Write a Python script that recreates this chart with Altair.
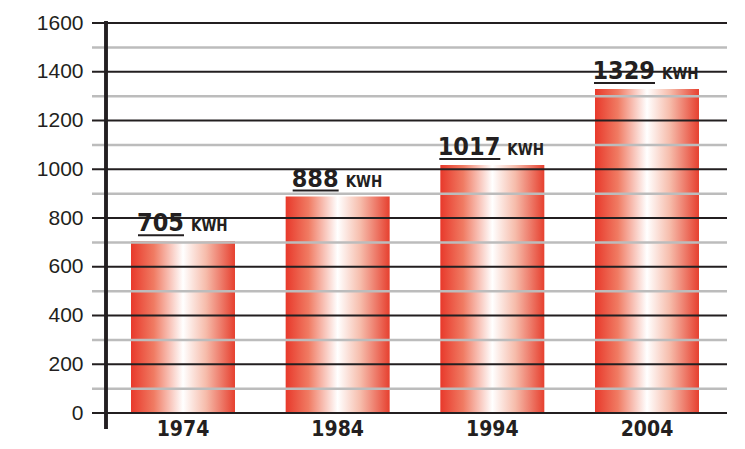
import altair as alt
import pandas as pd

years = ["1974", "1984", "1994", "2004"]
values = [705, 888, 1017, 1329]
unit = "KWH"
y_ticks = [0, 200, 400, 600, 800, 1000, 1200, 1400, 1600]
minor_lines = [100, 300, 500, 700, 900, 1100, 1300, 1500]

W, H = 635, 390
NARROW = "Liberation Sans Narrow, DejaVu Sans Condensed, Arial Narrow, sans-serif"
INK = "#231f20"

df = pd.DataFrame({"year": years, "value": values,
                   "label": [str(v) for v in values], "unit": unit})
major_df = pd.DataFrame({"v": y_ticks})
minor_df = pd.DataFrame({"v": minor_lines})

xscale = alt.Scale(paddingInner=0.3276, paddingOuter=0.2166, align=0.582)
yscale = alt.Scale(domain=[0, 1600], nice=False)

X = alt.X("year:O", scale=xscale, title=None,
          axis=alt.Axis(domain=False, ticks=False, labelAngle=0, labelFont=NARROW,
                        labelFontSize=21, labelFontWeight="bold", labelColor=INK,
                        labelPadding=5))
Y = alt.Y("value:Q", scale=yscale, title=None,
          axis=alt.Axis(values=y_ticks, format="d", domain=False, ticks=False, grid=False,
                        labelFont="Liberation Sans, Arial, sans-serif", labelFontSize=21,
                        labelColor=INK, labelPadding=9))

grad = alt.Gradient(gradient="linear", x1=0, x2=1, y1=0, y2=0, stops=[
    alt.GradientStop(offset=0, color="#e8392b"),
    alt.GradientStop(offset=0.22, color="#f07b63"),
    alt.GradientStop(offset=0.5, color="#ffffff"),
    alt.GradientStop(offset=0.72, color="#f6bcab"),
    alt.GradientStop(offset=1, color="#e6402f"),
])

base = alt.Chart(df)
bars = base.mark_bar(fill=grad).encode(x=X, y=Y)

minor = alt.Chart(minor_df).mark_rule(color="#bcbcbc", strokeWidth=2.5).encode(
    y=alt.Y("v:Q", scale=yscale), x=alt.value(0), x2=alt.value(W))
major = alt.Chart(major_df).mark_rule(color=INK, strokeWidth=2.2).encode(
    y=alt.Y("v:Q", scale=yscale), x=alt.value(0), x2=alt.value(W))
vaxis = alt.Chart(major_df).mark_rule(color=INK, strokeWidth=2.5).encode(
    x=alt.value(14), y=alt.value(-2), y2=alt.value(H + 16))

def labels(filt, num_dx, line_left, unit_dx):
    b = base.transform_filter(filt)
    num = b.mark_text(align="right", baseline="alphabetic", dx=num_dx, dy=-10,
                      font=NARROW, fontSize=25, fontWeight="bold", color=INK).encode(
        x="year:O", y="value:Q", text="label:N")
    line = b.mark_rule(color=INK, strokeWidth=2, xOffset=line_left, x2Offset=num_dx,
                       yOffset=-6, y2Offset=-6).encode(
        x="year:O", x2="year:O", y="value:Q")
    u = b.mark_text(align="left", baseline="alphabetic", dx=unit_dx, dy=-10,
                    font=NARROW, fontSize=15, fontWeight="bold", color=INK).encode(
        x="year:O", y="value:Q", text="unit:N")
    return [num, line, u]

layers = [bars, minor, major, vaxis]
layers += labels("datum.value < 1000", 1, -45, 8)
layers += labels("datum.value >= 1000", 8, -53, 15)

chart = alt.layer(*layers).properties(
    width=W, height=H,
    autosize=alt.AutoSizeParams(type="none"),
    padding={"left": 84, "top": 15, "right": 10, "bottom": 28},
).configure_view(stroke=None)

chart.save("out.html", embed_options={"renderer": "svg", "actions": False})
